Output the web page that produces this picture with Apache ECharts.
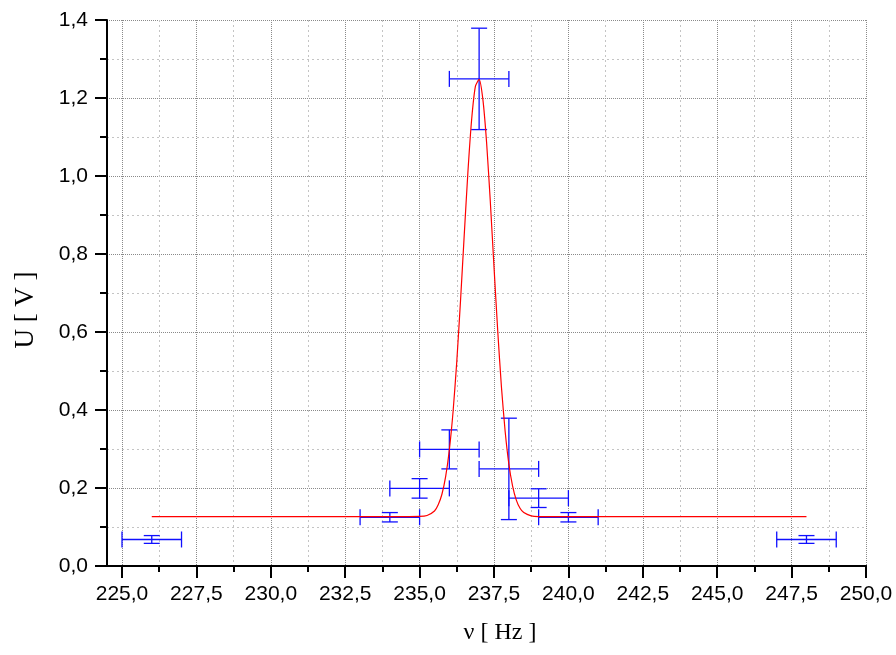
<!DOCTYPE html>
<html>
<head>
<meta charset="utf-8">
<script src="https://cdn.jsdelivr.net/npm/echarts@6/dist/echarts.min.js"></script>
<style>html,body{margin:0;padding:0;background:#fff}#c{width:896px;height:655px}</style>
</head>
<body>
<div id="c"></div>
<script>
// Measured points (frequency in Hz, voltage in V) with error bars
var freq = [226, 234, 235, 236, 237, 238, 239, 240, 248];
var volt = [0.068, 0.125, 0.199, 0.299, 1.249, 0.249, 0.174, 0.125, 0.068];
var freqErr = [1, 1, 1, 1, 1, 1, 1, 1, 1];
var voltErr = [0.010, 0.012, 0.025, 0.050, 0.130, 0.130, 0.024, 0.012, 0.010];

// Fit curve
var fitX = [226, 234, 235, 235.25, 235.5, 235.625, 235.75, 235.875, 236, 236.125, 236.25, 236.375, 236.5, 236.625, 236.75, 236.875, 237, 237.125, 237.25, 237.375, 237.5, 237.625, 237.75, 237.875, 238, 238.125, 238.25, 238.375, 238.5, 238.75, 239, 240, 248];
var fitY = [0.1265, 0.1265, 0.127, 0.1295, 0.141, 0.157, 0.184, 0.229, 0.298, 0.396, 0.525, 0.680, 0.849, 1.012, 1.146, 1.230, 1.248, 1.197, 1.087, 0.936, 0.767, 0.603, 0.459, 0.345, 0.261, 0.205, 0.169, 0.148, 0.137, 0.1285, 0.1268, 0.1265, 0.1265];

// Axis ticks
var xTicks = {min: 225, max: 250, interval: 2.5};
var yTicks = {min: 0, max: 1.4, interval: 0.2};
var xName = 'ν [ Hz ]';
var yName = 'U [ V ]';

function comma(v) { return v.toFixed(1).replace('.', ','); }

var errData = freq.map(function (f, i) { return [f, volt[i], freqErr[i], voltErr[i]]; });
var fitData = fitX.map(function (x, i) { return [x, fitY[i]]; });

var sans = '"Liberation Sans", Arial, Helvetica, sans-serif';
var serif = '"Liberation Serif", "Times New Roman", serif';
var majorGrid = {show: true, lineStyle: {color: '#8a8a8a', width: 1, type: [1, 1]}};
var minorGrid = {show: true, lineStyle: {color: '#c4c4c4', width: 1, type: [2, 3]}};
var axisLine = {show: true, onZero: false, lineStyle: {color: '#000', width: 2}};

var chart = echarts.init(document.getElementById('c'));
chart.setOption({
  animation: false,
  backgroundColor: '#fff',
  grid: [
    {left: 107, right: 30, top: 20, bottom: 89},
    {left: 122, right: 30, top: 20, bottom: 89}
  ],
  xAxis: [
    {gridIndex: 0, type: 'value', min: 0, max: 1, axisLine: axisLine,
     axisTick: {show: false}, axisLabel: {show: false}, splitLine: {show: false}},
    {gridIndex: 1, type: 'value', min: xTicks.min, max: xTicks.max, interval: xTicks.interval,
     axisLine: axisLine,
     axisTick: {show: true, inside: false, length: 12, lineStyle: {color: '#000', width: 2}},
     minorTick: {show: true, splitNumber: 2, length: 6, lineStyle: {color: '#000', width: 2}},
     axisLabel: {formatter: comma, fontFamily: sans, fontSize: 21, color: '#000', margin: 18},
     splitLine: majorGrid, minorSplitLine: minorGrid,
     name: xName, nameLocation: 'middle', nameGap: 55,
     nameTextStyle: {fontFamily: serif, fontSize: 24, color: '#000', padding: [0, 0, 0, 12]}}
  ],
  yAxis: [
    {gridIndex: 0, type: 'value', min: yTicks.min, max: yTicks.max, interval: yTicks.interval,
     axisLine: axisLine,
     axisTick: {show: true, inside: false, length: 12, lineStyle: {color: '#000', width: 2}},
     minorTick: {show: true, splitNumber: 2, length: 7, lineStyle: {color: '#000', width: 2}},
     axisLabel: {formatter: comma, fontFamily: sans, fontSize: 21, color: '#000', margin: 19},
     splitLine: majorGrid, minorSplitLine: minorGrid,
     name: yName, nameLocation: 'middle', nameGap: 68, nameRotate: 90,
     nameTextStyle: {fontFamily: serif, fontSize: 27, color: '#000', padding: [0, 34, 0, 0]}},
    {gridIndex: 1, type: 'value', min: yTicks.min, max: yTicks.max, show: false}
  ],
  series: [
    {
      type: 'custom', xAxisIndex: 1, yAxisIndex: 1, z: 3,
      data: errData,
      encode: {x: 0, y: 1},
      renderItem: function (params, api) {
        var x = api.value(0), y = api.value(1), dx = api.value(2), dy = api.value(3);
        var l = api.coord([x - dx, y]), r = api.coord([x + dx, y]);
        var t = api.coord([x, y + dy]), b = api.coord([x, y - dy]);
        var cap = 8;
        var st = {stroke: '#1010ff', lineWidth: 1.3};
        function ln(x1, y1, x2, y2) { return {type: 'line', shape: {x1: x1, y1: y1, x2: x2, y2: y2}, style: st}; }
        return {type: 'group', children: [
          ln(l[0], l[1], r[0], r[1]),
          ln(l[0], l[1] - cap, l[0], l[1] + cap),
          ln(r[0], r[1] - cap, r[0], r[1] + cap),
          ln(t[0], t[1], b[0], b[1]),
          ln(t[0] - cap, t[1], t[0] + cap, t[1]),
          ln(b[0] - cap, b[1], b[0] + cap, b[1])
        ]};
      }
    },
    {
      type: 'line', xAxisIndex: 1, yAxisIndex: 1, z: 4,
      data: fitData, showSymbol: false, smooth: 0.2,
      lineStyle: {color: '#ff0000', width: 1.2}
    }
  ]
});
</script>
</body>
</html>
